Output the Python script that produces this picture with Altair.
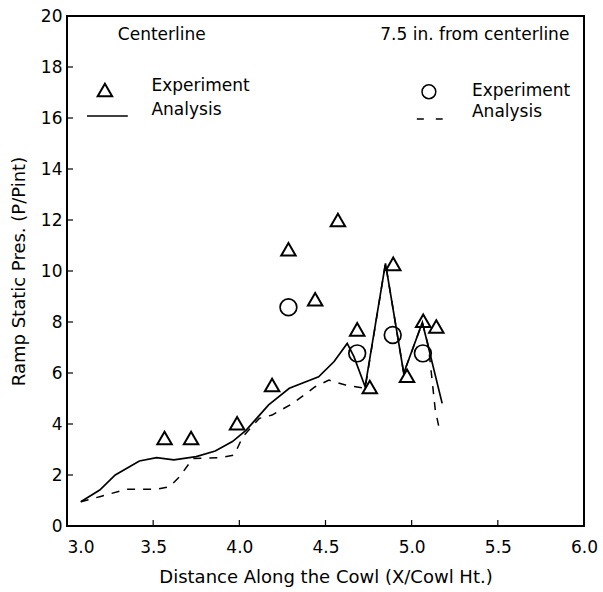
import altair as alt
import pandas as pd

# ---- data ----
# Centerline analysis (solid line)
solid_x = [3.08, 3.19, 3.28, 3.42, 3.52, 3.62, 3.75, 3.86, 3.96, 4.04, 4.17, 4.29, 4.46, 4.55, 4.626, 4.665, 4.73, 4.848, 4.954, 5.062, 5.177]
solid_y = [0.95, 1.41, 2.0, 2.55, 2.68, 2.59, 2.72, 2.94, 3.31, 3.76, 4.75, 5.4, 5.85, 6.45, 7.16, 6.64, 5.46, 10.3, 5.99, 7.98, 4.81]

# 7.5 in. from centerline analysis (dashed line)
dash_x = [3.08, 3.19, 3.345, 3.52, 3.595, 3.653, 3.73, 3.884, 3.97, 4.02, 4.116, 4.19, 4.31, 4.44, 4.52, 4.616, 4.73, 4.848, 4.954, 5.062, 5.098, 5.137, 5.166]
dash_y = [0.95, 1.15, 1.44, 1.44, 1.54, 1.93, 2.65, 2.68, 2.78, 3.5, 4.22, 4.35, 4.81, 5.46, 5.72, 5.53, 5.4, 10.3, 5.99, 7.98, 7.03, 4.55, 3.63]

# Centerline experiment (triangles)
tri_x = [3.566, 3.72, 3.987, 4.19, 4.285, 4.44, 4.572, 4.684, 4.757, 4.893, 4.973, 5.067, 5.143]
tri_y = [3.45, 3.45, 4.03, 5.53, 10.85, 8.89, 12.0, 7.71, 5.45, 10.28, 5.89, 8.05, 7.82]

# 7.5 in. experiment (circles)
circ_x = [4.285, 4.684, 4.89, 5.065]
circ_y = [8.58, 6.77, 7.49, 6.77]

x_ticks = [3.0, 3.5, 4.0, 4.5, 5.0, 5.5, 6.0]
y_ticks = [0, 2, 4, 6, 8, 10, 12, 14, 16, 18, 20]
x_inner_ticks = [3.5, 4.0, 4.5, 5.0, 5.5]
y_inner_ticks = [2, 4, 6, 8, 10, 12, 14, 16, 18]

x_title = "Distance Along the Cowl (X/Cowl Ht.)"
y_title = "Ramp Static Pres. (P/Pint)"

# annotation / legend text
left_texts = ["Centerline", "Experiment", "Analysis", "Experiment", "Analysis"]
left_text_x = [3.295, 3.49, 3.49, 5.35, 5.35]
left_text_y = [19.27, 17.25, 16.3, 17.05, 16.25]
right_texts = ["7.5 in. from centerline"]
right_text_x = [5.915]
right_text_y = [19.25]

legend_tri_x = [3.22]
legend_tri_y = [17.1]
legend_circ_x = [5.1]
legend_circ_y = [17.03]
legend_solid = {"x1": [3.116], "x2": [3.353], "y": [16.08]}
legend_dash = {"x1": [5.03], "x2": [5.18], "y": [15.96]}

FONT = "DejaVu Sans"

xs = alt.Scale(domain=[3, 6], nice=False, zero=False)
ys = alt.Scale(domain=[0, 20], nice=False, zero=False)

xaxis = alt.Axis(
    values=x_ticks, format=".1f", labelPadding=13, titlePadding=13,
    labelAlign={"condition": {"test": "datum.value <= 3", "value": "left"}, "value": "center"},
)
yaxis = alt.Axis(values=y_ticks, format="d", labelPadding=5, titlePadding=12)


def X(f):
    return alt.X(f, type="quantitative", scale=xs, axis=xaxis, title=x_title)


def Y(f):
    return alt.Y(f, type="quantitative", scale=ys, axis=yaxis, title=y_title)


solid_df = pd.DataFrame({"x": solid_x, "y": solid_y, "i": list(range(len(solid_x)))})
dash_df = pd.DataFrame({"x": dash_x, "y": dash_y, "i": list(range(len(dash_x)))})
tri_df = pd.DataFrame({"x": tri_x + legend_tri_x, "y": tri_y + legend_tri_y})
circ_df = pd.DataFrame({"x": circ_x, "y": circ_y})
lcirc_df = pd.DataFrame({"x": legend_circ_x, "y": legend_circ_y})
ltext_df = pd.DataFrame({"t": left_texts, "x": left_text_x, "y": left_text_y})
rtext_df = pd.DataFrame({"t": right_texts, "x": right_text_x, "y": right_text_y})
lsolid_df = pd.DataFrame(legend_solid)
ldash_df = pd.DataFrame(legend_dash)
xt_df = pd.DataFrame({"v": x_inner_ticks})
yt_df = pd.DataFrame({"v": y_inner_ticks})

solid_line = alt.Chart(solid_df).mark_line(color="black", strokeWidth=1.7).encode(
    x=X("x"), y=Y("y"), order=alt.Order("i:Q"))
dash_line = alt.Chart(dash_df).mark_line(color="black", strokeWidth=1.5, strokeDash=[8, 8]).encode(
    x=X("x"), y=Y("y"), order=alt.Order("i:Q"))
tris = alt.Chart(tri_df).mark_point(shape="triangle-up", filled=False, color="black", size=210,
                                    strokeWidth=2, opacity=1).encode(x=X("x"), y=Y("y"))
circs = alt.Chart(circ_df).mark_point(shape="circle", filled=False, color="black", size=280,
                                      strokeWidth=1.7, opacity=1).encode(x=X("x"), y=Y("y"))
lcircs = alt.Chart(lcirc_df).mark_point(shape="circle", filled=False, color="black", size=190,
                                        strokeWidth=1.5, opacity=1).encode(x=X("x"), y=Y("y"))
ltext = alt.Chart(ltext_df).mark_text(align="left", baseline="middle", font=FONT, fontSize=17,
                                      color="black").encode(x=X("x"), y=Y("y"), text="t:N")
rtext = alt.Chart(rtext_df).mark_text(align="right", baseline="middle", font=FONT, fontSize=17,
                                      color="black").encode(x=X("x"), y=Y("y"), text="t:N")
lsolid = alt.Chart(lsolid_df).mark_rule(color="black", strokeWidth=1.5).encode(
    x=X("x1"), x2="x2", y=Y("y"))
ldash = alt.Chart(ldash_df).mark_rule(color="black", strokeWidth=1.5, strokeDash=[7, 12]).encode(
    x=X("x1"), x2="x2", y=Y("y"))
xt = alt.Chart(xt_df).mark_rule(color="black", strokeWidth=1.2).encode(
    x=X("v"), y=alt.value(510), y2=alt.value(504))
yt = alt.Chart(yt_df).mark_rule(color="black", strokeWidth=1.2).encode(
    y=Y("v"), x=alt.value(0), x2=alt.value(6))

chart = alt.layer(
    solid_line, dash_line, tris, circs, lcircs, ltext, rtext, lsolid, ldash, xt, yt
).properties(
    width=517, height=510,
    autosize=alt.AutoSizeParams(type="none"),
    padding={"left": 67, "top": 16, "right": 19, "bottom": 66},
    background="white",
).configure_view(
    stroke="black", strokeWidth=2
).configure_axis(
    domain=False, ticks=False, tickSize=0, grid=False,
    labelFont=FONT, labelFontSize=17, labelColor="black",
    titleFont=FONT, titleFontSize=18, titleFontWeight="normal", titleColor="black",
)

chart.save("out.html", embed_options={"renderer": "svg", "actions": False})
